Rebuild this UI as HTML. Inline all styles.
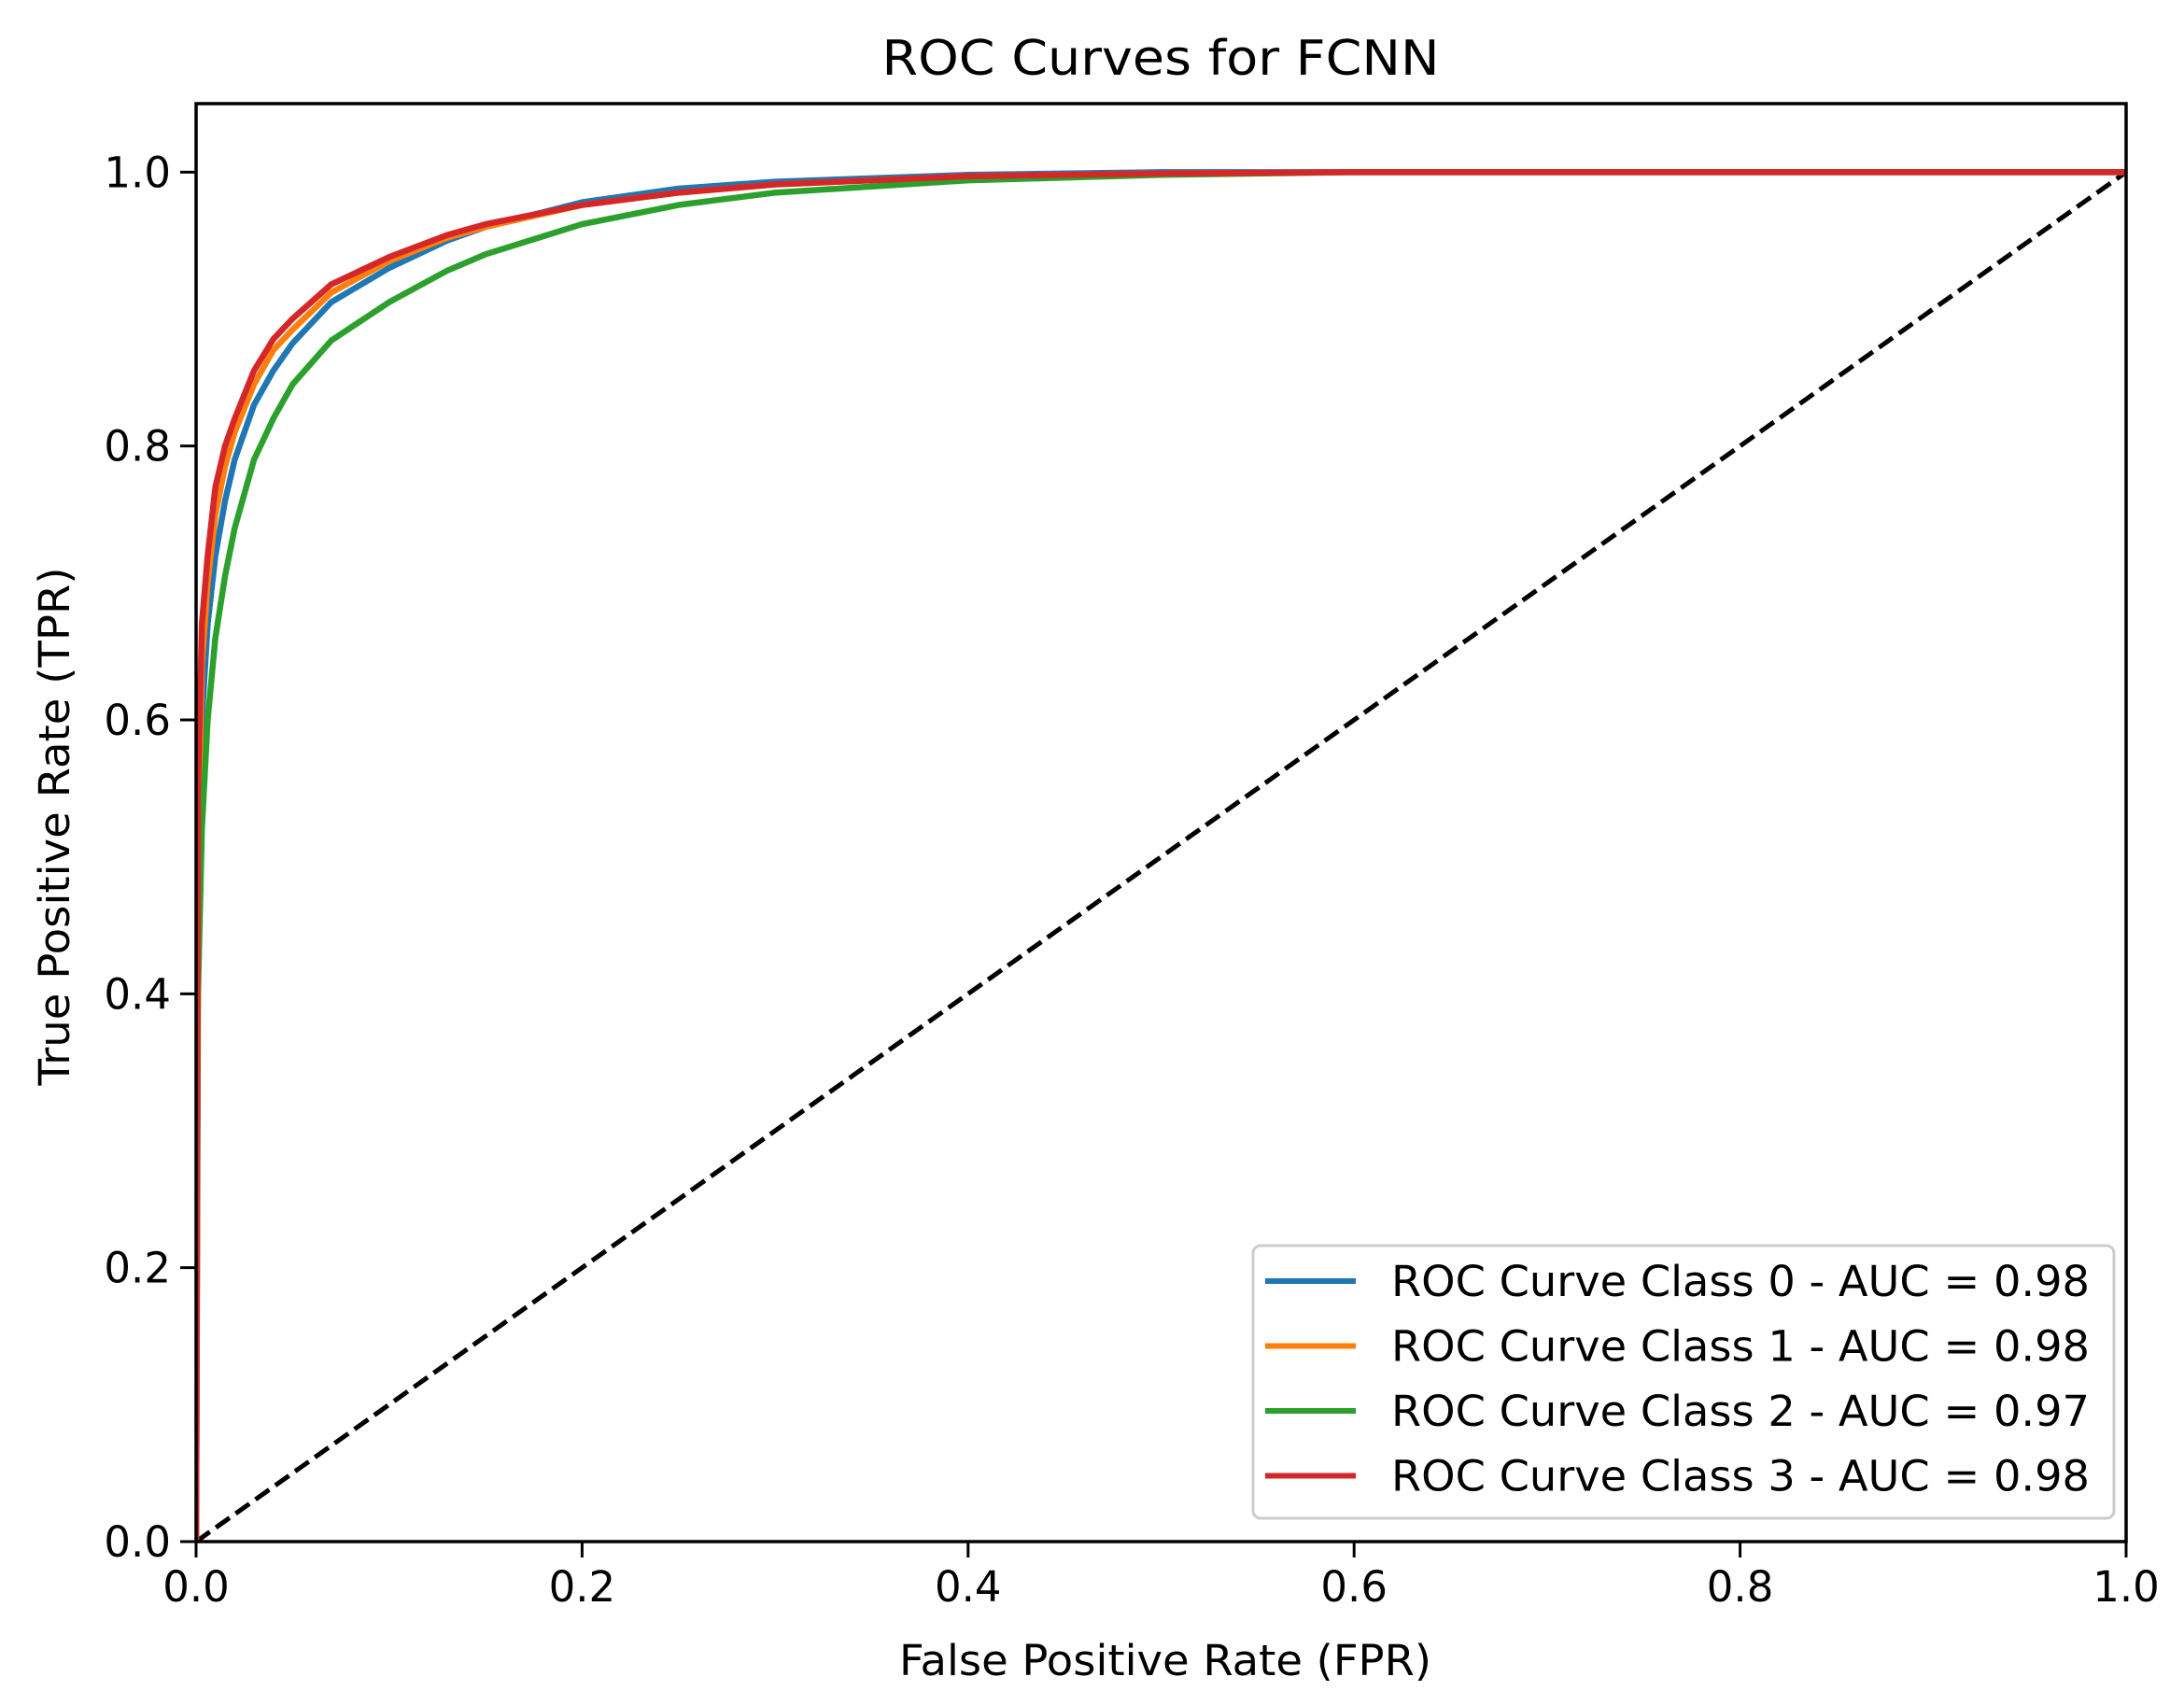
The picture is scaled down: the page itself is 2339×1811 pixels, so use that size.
<!DOCTYPE html>
<html><head><meta charset="utf-8"><style>
html,body{margin:0;padding:0;background:#fff;}
svg{display:block;font-family:"DejaVu Sans","Liberation Sans",sans-serif;}
</style></head><body>
<svg id="chart" width="2339" height="1811" viewBox="0 0 2339 1811" xmlns="http://www.w3.org/2000/svg">
<rect width="2339" height="1811" fill="#fff"/>
<text x="1243" y="80" font-size="52" text-anchor="middle" textLength="597" lengthAdjust="spacingAndGlyphs" fill="#000">ROC Curves for FCNN</text>
<g id="plot"></g>
<text x="1248" y="1794" font-size="45" text-anchor="middle" textLength="570" lengthAdjust="spacingAndGlyphs" fill="#000">False Positive Rate (FPR)</text>
<text transform="translate(74,885) rotate(-90)" font-size="45" text-anchor="middle" textLength="555" lengthAdjust="spacingAndGlyphs" fill="#000">True Positive Rate (TPR)</text>
</svg>
<script>
const fpr0 = [0,0.001,0.003,0.006,0.01,0.015,0.02,0.03,0.04,0.05,0.07,0.1,0.13,0.15,0.2,0.25,0.3,0.4,0.5,0.6,1];
const tprClass0 = [0,0.45,0.6,0.67,0.72,0.76,0.79,0.83,0.855,0.875,0.905,0.93,0.95,0.96,0.978,0.988,0.993,0.998,1,1,1];
const tprClass1 = [0,0.5,0.64,0.7,0.75,0.785,0.81,0.845,0.87,0.885,0.912,0.935,0.952,0.96,0.976,0.985,0.991,0.997,0.999,1,1];
const tprClass2 = [0,0.4,0.52,0.6,0.66,0.705,0.74,0.79,0.82,0.845,0.877,0.905,0.928,0.94,0.962,0.976,0.985,0.994,0.998,1,1];
const tprClass3 = [0,0.55,0.67,0.72,0.77,0.8,0.82,0.855,0.878,0.893,0.918,0.938,0.954,0.962,0.976,0.985,0.991,0.997,0.999,1,1];
const seriesNames = ["ROC Curve Class 0 - AUC = 0.98","ROC Curve Class 1 - AUC = 0.98","ROC Curve Class 2 - AUC = 0.97","ROC Curve Class 3 - AUC = 0.98"];
const seriesColors = ["#1f77b4","#ff7f0e","#2ca02c","#d62728"];
const xTicks = [0,0.2,0.4,0.6,0.8,1.0];
const yTicks = [0,0.2,0.4,0.6,0.8,1.0];
const tickLabels = ["0.0","0.2","0.4","0.6","0.8","1.0"];

const L=210,R=2277,T=111,B=1651;
const xs = v => L + (v)/1.0*(R-L);
const ys = v => B - v/1.05*(B-T);
const NS="http://www.w3.org/2000/svg";
const g=document.getElementById('plot');
function mk(tag,attrs,parent){const e=document.createElementNS(NS,tag);for(const k in attrs)e.setAttribute(k,attrs[k]);(parent||g).appendChild(e);return e;}

const series=[tprClass0,tprClass1,tprClass2,tprClass3];
const clip=mk('clipPath',{id:'clip'});mk('rect',{x:L,y:T,width:R-L,height:B-T},clip);
const diag=mk('line',{x1:xs(0),y1:ys(0),x2:xs(1),y2:ys(1),stroke:'#000','stroke-width':5,'stroke-dasharray':'18,8'});


series.forEach((s,i)=>{
  const p=mk('polyline',{points:s.map((v,j)=>xs(fpr0[j])+','+ys(v)).join(' '),fill:'none',stroke:seriesColors[i],'stroke-width':6.5,'stroke-linejoin':'round','clip-path':'url(#clip)'});
  
  
});
const frame=mk('rect',{x:L,y:T,width:R-L,height:B-T,fill:'none',stroke:'#000','stroke-width':3.5});


xTicks.forEach((v,i)=>{
  mk('line',{x1:xs(v),y1:B,x2:xs(v),y2:B+17,stroke:'#000','stroke-width':3});
  const t=mk('text',{x:xs(v),y:B+64,'font-size':45,'text-anchor':'middle',fill:'#000'});t.textContent=tickLabels[i];
  
  
});
yTicks.forEach((v,i)=>{
  mk('line',{x1:L-17,y1:ys(v),x2:L,y2:ys(v),stroke:'#000','stroke-width':3});
  const t=mk('text',{x:L-27,y:ys(v)+16,'font-size':45,'text-anchor':'end',fill:'#000'});t.textContent=tickLabels[i];
  
  
});
const lg=mk('g',{});


mk('rect',{x:1342,y:1334,width:922,height:292,rx:8,fill:'#fff','fill-opacity':0.8,stroke:'#ccc','stroke-width':3},lg);
seriesNames.forEach((n,i)=>{
  const y=1372+i*69.5;
  mk('line',{x1:1355,y1:y,x2:1452,y2:y,stroke:seriesColors[i],'stroke-width':6},lg);
  const t=mk('text',{x:1490,y:y+16,'font-size':45,textLength:748,lengthAdjust:'spacingAndGlyphs',fill:'#000'},lg);t.textContent=n;
  
  
});
</script>
</body></html>
